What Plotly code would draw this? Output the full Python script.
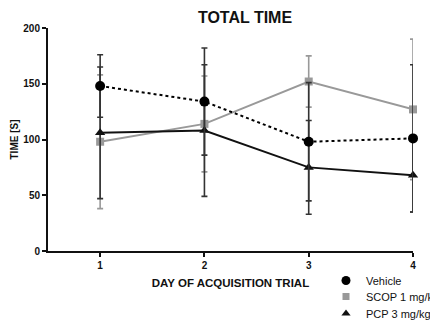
import plotly.graph_objects as go

days = [1, 2, 3, 4]
vehicle = [148, 134, 98, 101]
vehicle_err = [28, 48, 53, 66]
scop = [98, 114, 152, 127]
scop_err = [60, 43, 23, 63]
pcp = [106, 108, 75, 68]
pcp_err = [59, 59, 42, 33]

FONT = "Arial, Liberation Sans, sans-serif"
# page body has an 8px margin; compensate so the figure lands at the window edges
OFF = 8
W, H = 438 - OFF, 322 - OFF

fig = go.Figure()

def add(name, y, err, color, errcolor, symbol, dash, size):
    fig.add_trace(go.Scatter(
        x=days, y=y, mode="lines+markers", name=name, showlegend=False,
        line=dict(color=color, width=2, dash=dash),
        marker=dict(color=color, symbol=symbol, size=size),
        error_y=dict(type="data", array=err, visible=True, color=errcolor,
                     thickness=1.6, width=3),
        cliponaxis=False))

add("SCOP 1 mg/kg", scop, scop_err, "#999999", "#999999", "square", "solid", 8)
add("PCP 3 mg/kg", pcp, pcp_err, "#111111", "#333333", "triangle-up", "solid", 9)
add("Vehicle", vehicle, vehicle_err, "#000000", "#333333", "circle", "dot", 10)

legend_items = [("Vehicle", "#000000", "circle", 9, "legend"),
                ("SCOP 1 mg/kg", "#999999", "square", 7, "legend2"),
                ("PCP 3 mg/kg", "#111111", "triangle-up", 8, "legend3")]
for name, color, symbol, size, lg in legend_items:
    fig.add_trace(go.Scatter(x=[None], y=[None], mode="markers", name=name, legend=lg,
                             marker=dict(color=color, symbol=symbol, size=size)))

def legend_at(row_px):
    top = row_px - 15
    return dict(x=(326 - 48) / 365, xanchor="left", y=(251 - top) / 223, yanchor="top",
                font=dict(size=11, color="#111111"), bgcolor="rgba(0,0,0,0)",
                itemwidth=30)

fig.update_layout(
    width=W, height=H,
    margin=dict(l=48 - OFF, r=25, t=28 - OFF, b=71, autoexpand=False),
    paper_bgcolor="white", plot_bgcolor="white",
    font=dict(family=FONT, color="#111111"),
    title=dict(text="<b>TOTAL TIME</b>", font=dict(size=16, color="#111111"),
               x=(245 - OFF) / W, xanchor="center", y=1 - (17 - OFF) / H, yanchor="middle",
               xref="container", yref="container"),
    xaxis=dict(range=[0.5, 4], tickvals=days, ticktext=[f"<b>{d}</b>" for d in days],
               showline=True, linecolor="#111111", linewidth=2, ticks="outside",
               ticklen=4, tickwidth=2, tickcolor="#111111", showgrid=False, zeroline=False,
               tickfont=dict(size=10),
               title=dict(text="<b>DAY OF ACQUISITION TRIAL</b>", font=dict(size=11.5), standoff=9)),
    yaxis=dict(range=[0, 200], tickvals=[0, 50, 100, 150, 200],
               ticktext=[f"<b>{v}</b>" for v in [0, 50, 100, 150, 200]],
               showline=True, linecolor="#111111", linewidth=2, ticks="outside",
               ticklen=4, tickwidth=2, tickcolor="#111111", showgrid=False, zeroline=False,
               tickfont=dict(size=10),
               title=dict(text="<b>TIME [S]</b>", font=dict(size=10), standoff=3)),
    legend=legend_at(281),
    legend2=legend_at(297),
    legend3=legend_at(314),
)

fig.write_html("out.html")
